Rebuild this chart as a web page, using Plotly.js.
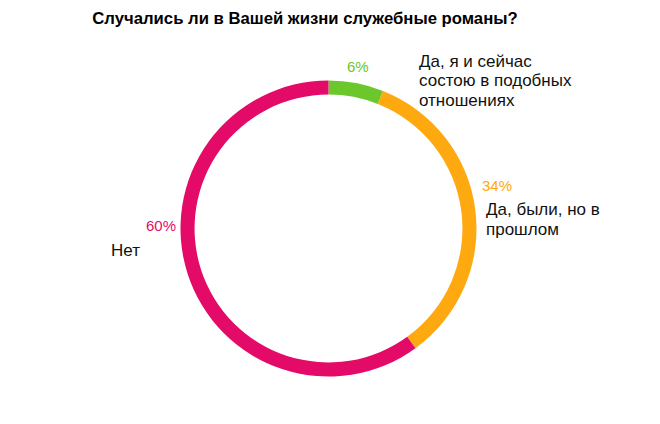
<!DOCTYPE html>
<html>
<head>
<meta charset="utf-8">
<script src="https://cdn.plot.ly/plotly-3.0.1.min.js"></script>
<style>html,body{margin:0;padding:0;background:#fff;}#chart{width:660px;height:424px;}</style>
</head>
<body>
<div id="chart"></div>
<script>
var categories = ["Да, я и сейчас<br>состою в подобных<br>отношениях", "Да, были, но в<br>прошлом", "Нет"];
var values = [6, 34, 60];
var colors = ["#6CC72C", "#FDA90F", "#E40B68"];
var title = "Случались ли в Вашей жизни служебные романы?";

var W = 660, H = 424;
function px(x){ return x / W; }
function py(y){ return 1 - y / H; }

var font = "Liberation Sans, Arial, sans-serif";
var cx = 328.5, cy = 228.5, R = 148;

var trace = {
  type: "pie",
  values: values,
  labels: categories,
  marker: {colors: colors, line: {width: 0}},
  hole: 0.905,
  sort: false,
  direction: "clockwise",
  rotation: 0,
  textinfo: "none",
  hoverinfo: "none",
  showlegend: false,
  domain: {x: [px(cx - R), px(cx + R)], y: [py(cy + R), py(cy - R)]}
};

var pctPos = [[358, 67], [497, 185], [161, 225]];
var labPos = [[417, 61], [484, 210], [109, 250]];
var lineGap = 19.5;

var annotations = [];
for (var i = 0; i < values.length; i++) {
  annotations.push({
    xref: "paper", yref: "paper",
    x: px(pctPos[i][0]), y: py(pctPos[i][1]),
    xanchor: "center", yanchor: "middle",
    text: values[i] + "%", showarrow: false,
    font: {family: font, size: 15, color: colors[i]}
  });
  var lines = categories[i].split("<br>");
  for (var j = 0; j < lines.length; j++) {
    annotations.push({
      xref: "paper", yref: "paper",
      x: px(labPos[i][0]), y: py(labPos[i][1] + j * lineGap),
      xanchor: "left", yanchor: "middle", align: "left",
      text: lines[j], showarrow: false,
      font: {family: font, size: 17, color: "#111"}
    });
  }
}

var layout = {
  width: W, height: H,
  margin: {l: 0, r: 0, t: 0, b: 0},
  paper_bgcolor: "#fff",
  title: {text: "<b>" + title + "</b>", x: px(305), xanchor: "center", y: py(18), yanchor: "middle",
          font: {family: font, size: 16.7, color: "#000"}},
  annotations: annotations
};

Plotly.newPlot("chart", [trace], layout, {displayModeBar: false, staticPlot: true});
</script>
</body>
</html>
